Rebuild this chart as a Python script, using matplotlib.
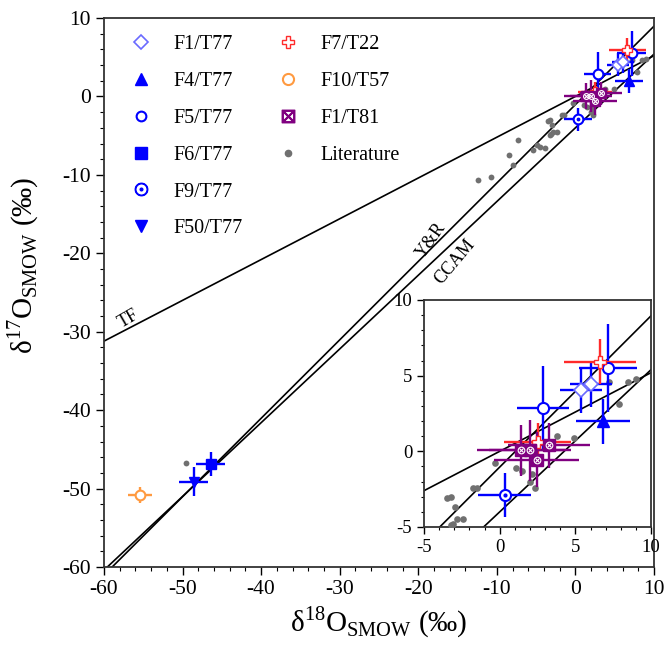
import matplotlib.pyplot as plt
from matplotlib.lines import Line2D
import numpy as np

plt.rcParams['font.family'] = ['Liberation Serif', 'DejaVu Serif']
plt.rcParams['mathtext.fontset'] = 'custom'
plt.rcParams['mathtext.rm'] = 'Liberation Serif'
plt.rcParams['axes.unicode_minus'] = False

# samples: x (d18O), y (d17O), x error, y error
f1_t77_x = [5.36, 6.04]
f1_t77_y = [4.06, 4.44]
f1_t77_xe = [1.4, 1.4]
f1_t77_ye = [1.5, 1.5]

f4_t77_x = [6.82]
f4_t77_y = [1.97]
f4_t77_xe = [1.8]
f4_t77_ye = [1.5]

f5_t77_x = [2.85, 7.14]
f5_t77_y = [2.87, 5.49]
f5_t77_xe = [1.7, 1.9]
f5_t77_ye = [2.8, 2.9]

f6_t77_x = [-46.4]
f6_t77_y = [-46.9]
f6_t77_xe = [1.85]
f6_t77_ye = [1.5]

f9_t77_x = [0.34]
f9_t77_y = [-2.91]
f9_t77_xe = [1.75]
f9_t77_ye = [1.45]

f50_t77_x = [-48.6]
f50_t77_y = [-49.1]
f50_t77_xe = [1.9]
f50_t77_ye = [1.85]

f7_t22_x = [6.63, 2.5]
f7_t22_y = [5.93, 0.59]
f7_t22_xe = [2.4, 2.2]
f7_t22_ye = [1.5, 1.3]

f10_t57_x = [-55.4]
f10_t57_y = [-50.8]
f10_t57_xe = [1.55]
f10_t57_ye = [1.0]

f1_t81_x = [1.4, 2.01, 2.45, 3.25]
f1_t81_y = [0.06, 0.06, -0.55, 0.39]
f1_t81_xe = [2.9, 2.7, 2.8, 2.7]
f1_t81_ye = [1.7, 2.0, 1.8, 1.5]

lit_x = [-49.6, -12.4, -10.7, -8.4, -7.9, -7.3, -5.4, -4.9, -4.5, -3.9, -3.2, -2.8,
         -3.45, -1.75, -3.2, -2.95, -2.4, -3.06, -1.5, -0.3, 1.1, 1.5, 2.0, 2.1, 2.3,
         3.8, 4.9, 7.2, 7.9, 8.5, 9.0]
lit_y = [-46.8, -10.7, -10.3, -7.5, -8.8, -5.6, -6.8, -6.2, -6.4, -6.6, -4.9, -4.5,
         -3.1, -2.4, -3.0, -3.7, -4.5, -4.8, -2.4, -0.8, -1.1, -1.3, -2.0, -1.5, -2.4,
         1.0, 0.9, 4.6, 3.1, 4.6, 4.8]

# reference lines: slope, intercept
tf_line = (0.52, 0.0)
yr_line = (1.0, -1.04)
ccam_line = (0.94, -4.0)

BLUE = '#0000ff'
LBLUE = '#6a6aff'
RED = '#ff2a2a'
ORANGE = '#ff9a40'
PURPLE = '#800080'
GREY = '#707070'


def draw(ax, ms, elw):
    xs = np.array([-70, 20])
    for m, b in [tf_line, yr_line, ccam_line]:
        ax.plot(xs, m * xs + b, color='black', lw=1.2, zorder=2)

    ax.plot(lit_x, lit_y, 'o', color=GREY, ms=ms * 0.6, mec='none', zorder=3)

    series = [
        (f1_t77_x, f1_t77_y, f1_t77_xe, f1_t77_ye, BLUE),
        (f4_t77_x, f4_t77_y, f4_t77_xe, f4_t77_ye, BLUE),
        (f5_t77_x, f5_t77_y, f5_t77_xe, f5_t77_ye, BLUE),
        (f6_t77_x, f6_t77_y, f6_t77_xe, f6_t77_ye, BLUE),
        (f9_t77_x, f9_t77_y, f9_t77_xe, f9_t77_ye, BLUE),
        (f50_t77_x, f50_t77_y, f50_t77_xe, f50_t77_ye, BLUE),
        (f7_t22_x, f7_t22_y, f7_t22_xe, f7_t22_ye, RED),
        (f10_t57_x, f10_t57_y, f10_t57_xe, f10_t57_ye, ORANGE),
        (f1_t81_x, f1_t81_y, f1_t81_xe, f1_t81_ye, PURPLE),
    ]
    for x, y, xe, ye, c in series:
        ax.errorbar(x, y, xerr=xe, yerr=ye, fmt='none', ecolor=c, elinewidth=elw,
                    capsize=0, zorder=4)

    ax.plot(f1_t77_x, f1_t77_y, 'D', ms=ms * 0.85, mfc='white', mec=LBLUE, mew=1.2, zorder=5)
    ax.plot(f4_t77_x, f4_t77_y, '^', ms=ms, color=BLUE, zorder=5)
    ax.plot(f5_t77_x, f5_t77_y, 'o', ms=ms, mfc='white', mec=BLUE, mew=1.5, zorder=5)
    ax.plot(f6_t77_x, f6_t77_y, 's', ms=ms, color=BLUE, zorder=5)
    ax.plot(f9_t77_x, f9_t77_y, 'o', ms=ms, mfc='white', mec=BLUE, mew=1.5, zorder=5)
    ax.plot(f9_t77_x, f9_t77_y, 'o', ms=ms * 0.25, color=BLUE, zorder=6)
    ax.plot(f50_t77_x, f50_t77_y, 'v', ms=ms, color=BLUE, zorder=5)
    ax.plot(f7_t22_x, f7_t22_y, 'P', ms=ms, mfc='white', mec=RED, mew=1.0, zorder=5)
    ax.plot(f10_t57_x, f10_t57_y, 'o', ms=ms, mfc='white', mec=ORANGE, mew=1.5, zorder=5)
    ax.plot(f1_t81_x, f1_t81_y, 's', ms=ms, color=PURPLE, zorder=5)
    ax.plot(f1_t81_x, f1_t81_y, 'o', ms=ms * 0.6, mfc='none', mec='white', mew=0.8, zorder=6)
    ax.plot(f1_t81_x, f1_t81_y, 'x', ms=ms * 0.4, mec='white', mew=0.8, zorder=6)


fig = plt.figure(figsize=(6.64, 6.53), dpi=100)
ax = fig.add_axes([0.1566, 0.1317, 0.8283, 0.8407])
draw(ax, 7, 1.7)
ax.set_xlim(-60, 10)
ax.set_ylim(-60, 10)
ax.set_xticks(np.arange(-60, 11, 10))
ax.set_yticks(np.arange(-60, 11, 10))
ax.set_xticks(np.arange(-60, 11, 2), minor=True)
ax.set_yticks(np.arange(-60, 11, 2), minor=True)
ax.tick_params(which='major', length=6, width=1, labelsize=15.5, direction='out')
ax.tick_params(which='minor', length=3, width=0.8, direction='out')
for s in ax.spines.values():
    s.set_linewidth(1.3)
    s.set_color('#333333')
ax.set_xlabel('δ$^{18}$O$_{\\rm SMOW}$ (‰)', fontsize=21, labelpad=4)
ax.set_ylabel('δ$^{17}$O$_{\\rm SMOW}$ (‰)', fontsize=21, labelpad=2)
ax.yaxis.set_label_coords(-0.115, 0.55)

ax.text(-56.9, -28.3, 'TF', rotation=30, fontsize=13, ha='center', va='center')
ax.text(-18.3, -18.3, 'Y&R', rotation=55, fontsize=13, ha='center', va='center')
ax.text(-15.3, -21.1, 'CCAM', rotation=50, fontsize=13, ha='center', va='center')

# legend
blank = Line2D([], [], linestyle='none', marker='none')
handles = [
    Line2D([], [], ls='none', marker='D', ms=7, mfc='white', mec=LBLUE, mew=1.2),
    Line2D([], [], ls='none', marker='^', ms=8, color=BLUE),
    Line2D([], [], ls='none', marker='o', ms=7, mfc='white', mec=BLUE, mew=1.5),
    Line2D([], [], ls='none', marker='s', ms=8, color=BLUE),
    Line2D([], [], ls='none', marker='$\\odot$', ms=9, color=BLUE),
    Line2D([], [], ls='none', marker='v', ms=8, color=BLUE),
    Line2D([], [], ls='none', marker='P', ms=9, mfc='white', mec=RED, mew=1.0),
    Line2D([], [], ls='none', marker='o', ms=8, mfc='white', mec=ORANGE, mew=1.5),
    Line2D([], [], ls='none', marker='$\\boxtimes$', ms=9, color=PURPLE),
    Line2D([], [], ls='none', marker='o', ms=4.5, color=GREY),
    blank, blank,
]
labels = ['F1/T77', 'F4/T77', 'F5/T77', 'F6/T77', 'F9/T77', 'F50/T77',
          'F7/T22', 'F10/T57', 'F1/T81', 'Literature', '', '']
ax.legend(handles, labels, ncol=2, loc='upper left', bbox_to_anchor=(0.0, 1.0),
          frameon=False, fontsize=14.5, labelspacing=0.88, columnspacing=1.25,
          handletextpad=0.6, borderpad=0.35, handlelength=2.0)

# inset
axi = fig.add_axes([0.6386, 0.193, 0.342, 0.3476])
axi.set_facecolor('white')
draw(axi, 8, 1.7)
axi.set_xlim(-5, 10)
axi.set_ylim(-5, 10)
axi.set_xticks([-5, 0, 5, 10])
axi.set_yticks([-5, 0, 5, 10])
axi.set_xticks(np.arange(-5, 11, 1), minor=True)
axi.set_yticks(np.arange(-5, 11, 1), minor=True)
axi.tick_params(which='major', length=5, width=1, labelsize=13.5, direction='out')
axi.tick_params(which='minor', length=2.5, width=0.8, direction='out')
for s in axi.spines.values():
    s.set_linewidth(1.3)
    s.set_color('#333333')

fig.savefig('out.png', dpi=100)
